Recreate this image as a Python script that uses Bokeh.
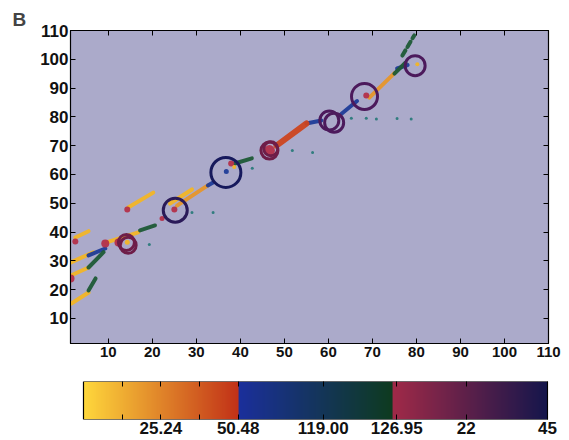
import numpy as np
from bokeh.plotting import figure
from bokeh.layouts import column
from bokeh.models import ColumnDataSource, FixedTicker, LinearAxis, Range1d
from bokeh.embed import file_html
from bokeh.resources import INLINE

# ---- trajectory segments (start / end points, colour class) ----
seg_x0 = [2.5, 14.5, 1.4, 9.6, 1.6, 1.6, 24.0, 25.6, 69.3,
          5.5, 32.6, 55.0, 62.5, 75.6,
          17.2, 5.5, 5.5, 38.7, 76.8, 75.0,
          48.2]
seg_y0 = [38.1, 48.5, 29.4, 36.4, 25.0, 15.2, 49.9, 49.2, 86.7,
          31.9, 56.2, 77.7, 80.5, 96.8,
          40.6, 27.7, 19.7, 63.8, 101.3, 95.0,
          70.0]
seg_x1 = [5.5, 20.2, 6.6, 16.8, 5.5, 5.5, 29.0, 32.6, 75.0,
          9.3, 33.8, 58.4, 66.5, 78.0,
          20.6, 8.9, 7.1, 42.6, 79.5, 77.5,
          55.0]
seg_y1 = [40.3, 53.7, 33.0, 39.9, 27.7, 19.0, 54.8, 56.2, 95.2,
          34.3, 57.2, 78.75, 85.5, 98.0,
          42.3, 33.0, 23.9, 65.6, 108.3, 98.8,
          77.7]
seg_kind = ["yellow"] * 7 + ["orange"] * 2 + ["blue"] * 5 + ["green"] * 6 + ["red"]
seg_dash = ["solid"] * 18 + ["6 4", "solid", "solid"]

# ---- open rings ----
ring_x = [36.7, 25.2, 14.1, 14.5, 46.6, 46.9, 60.2, 61.3, 68.2, 79.7]
ring_y = [60.7, 47.6, 36.4, 35.4, 68.3, 68.9, 78.75, 78.0, 87.1, 97.8]
ring_d = [30, 24, 16, 16, 17, 14, 19, 19, 26, 20]
ring_kind = ["navy", "indigo", "maroon", "maroon", "maroon", "maroon",
             "plum", "plum", "plum", "plum"]

# ---- filled dots ----
dot_x = [2.5, 9.3, 14.3, 1.4, 22.2, 37.9, 25.0, 12.3, 46.6, 68.6, 36.8,
         80.2, 14.3, 38.6,
         65.2, 68.6, 70.9, 75.6, 78.8, 51.8, 56.4, 29.0, 33.8, 19.3, 42.7]
dot_y = [36.7, 36.0, 47.8, 23.9, 44.7, 63.8, 47.8, 36.4, 68.3, 87.4, 61.0,
         98.3, 36.5, 62.6,
         79.5, 79.5, 79.3, 79.4, 79.3, 68.3, 67.6, 46.8, 46.8, 35.7, 62.2]
dot_d = [6, 8, 6, 8, 5, 6, 6, 8, 11, 6, 5,
         4, 5, 4,
         3, 3, 3, 3, 3, 3, 3, 3, 3, 3, 3]
dot_kind = ["crimson"] * 10 + ["blue"] + ["yellow"] * 3 + ["teal"] * 11

# ---- colour bar ----
cb_stops = [("#ffd83c", "#c23218"), ("#1b2f9c", "#0e3b20"), ("#a02a48", "#15164c")]
cb_tick_pos = [2, 4, 6.2, 8.1, 9.9, 12]
cb_tick_lbl = ["25.24", "50.48", "119.00", "126.95", "22", "45"]
cb_minor = [1, 3]

palette = {
    "yellow": "#f2b526", "orange": "#e6962a", "blue": "#1f3c98",
    "green": "#1d5a36", "red": "#cc441f", "navy": "#16195c",
    "indigo": "#2a1a58", "maroon": "#6e1d48", "plum": "#4c1a5c",
    "crimson": "#b3304a", "teal": "#2a7a7a",
}

FONT = "Liberation Sans"
BG = "#abaaca"

p = figure(width=569, height=365, output_backend="svg", toolbar_location=None,
           x_range=Range1d(1.4, 110), y_range=Range1d(1.3, 110),
           min_border_left=70, min_border_right=21, min_border_top=30,
           min_border_bottom=22)
p.background_fill_color = BG
p.border_fill_color = "white"
p.outline_line_color = "black"
p.outline_line_width = 1.2
p.grid.visible = False

p.title.text = "B"
p.title.text_font = FONT
p.title.text_font_size = "19px"
p.title.text_font_style = "bold"
p.title.align = "left"
p.title.offset = -58
p.title.standoff = 2

ticks = list(range(10, 111, 10))


def style_axis(ax, label_size=None):
    ax.ticker = FixedTicker(ticks=ticks)
    ax.major_tick_in = 5
    ax.major_tick_out = 0
    ax.minor_tick_line_color = None
    ax.axis_line_color = "black"
    ax.major_tick_line_color = "black"
    ax.major_label_text_font = FONT
    ax.major_label_text_font_style = "bold"
    if label_size:
        ax.major_label_text_color = "#111111"
        ax.major_label_text_font_size = label_size
        ax.major_label_standoff = 3
    else:
        ax.major_label_text_color = None
        ax.major_label_standoff = 0


style_axis(p.xaxis[0], "15px")
style_axis(p.yaxis[0], "17px")
p.yaxis[0].major_label_standoff = 2
top_ax = LinearAxis()
right_ax = LinearAxis()
style_axis(top_ax)
style_axis(right_ax)
p.add_layout(top_ax, "above")
p.add_layout(right_ax, "right")

seg_color = [palette[k] for k in seg_kind]
seg_width = [6 if k == "red" else 4 for k in seg_kind]
for dash in sorted(set(seg_dash)):
    idx = [i for i, d in enumerate(seg_dash) if d == dash]
    src = ColumnDataSource(dict(
        x0=[seg_x0[i] for i in idx], y0=[seg_y0[i] for i in idx],
        x1=[seg_x1[i] for i in idx], y1=[seg_y1[i] for i in idx],
        color=[seg_color[i] for i in idx], width=[seg_width[i] for i in idx],
    ))
    p.segment("x0", "y0", "x1", "y1", source=src, line_color="color",
              line_width="width", line_cap="round", line_dash=dash, line_alpha=0.95)

dot_src = ColumnDataSource(dict(x=dot_x, y=dot_y, size=dot_d,
                                color=[palette[k] for k in dot_kind]))
p.scatter("x", "y", size="size", source=dot_src, fill_color="color",
          line_color=None, fill_alpha=0.95)

ring_src = ColumnDataSource(dict(x=ring_x, y=ring_y, size=ring_d,
                                 color=[palette[k] for k in ring_kind]))
p.scatter("x", "y", size="size", source=ring_src, fill_color=None,
          line_color="color", line_width=3)

# ---- colour bar panel ----
# the bar spans 0..12 on its own scale; the frame is a little wider so that
# both panels share the same left/right frame edges in the column layout
cb_lo, cb_hi = 0.0, 12.0
cb = figure(width=569, height=75, output_backend="svg", toolbar_location=None,
            x_range=Range1d(-0.336, 12.025), y_range=Range1d(0, 1),
            min_border_left=70, min_border_right=21, min_border_top=16,
            min_border_bottom=21)
cb.grid.visible = False
cb.outline_line_color = None
cb.background_fill_color = "white"
cb.yaxis.visible = False


def hex_rgb(h):
    return np.array([int(h[i:i + 2], 16) for i in (1, 3, 5)], dtype=float)


n = 200
row = []
for c0, c1 in cb_stops:
    a, b = hex_rgb(c0), hex_rgb(c1)
    for t in np.linspace(0, 1, n):
        r, g, bl = (a + (b - a) * t).astype(np.uint32)
        row.append((255 << 24) | (bl << 16) | (g << 8) | r)
img = np.array([row], dtype=np.uint32)
cb.image_rgba(image=[img], x=cb_lo, y=0, dw=cb_hi - cb_lo, dh=1)
cb.quad(left=cb_lo, right=cb_hi, bottom=0, top=1, fill_color=None,
        line_color="black", line_width=1.2)

cb_ax = cb.xaxis[0]
cb_ax.ticker = FixedTicker(ticks=cb_tick_pos, minor_ticks=cb_minor)
cb_ax.major_label_overrides = {t: l for t, l in zip(cb_tick_pos, cb_tick_lbl)}
cb_ax.axis_line_color = None
cb_ax.major_tick_in = 5
cb_ax.major_tick_out = 0
cb_ax.minor_tick_in = 5
cb_ax.minor_tick_out = 0
cb_ax.major_label_standoff = 2
cb_ax.major_label_text_font = FONT
cb_ax.major_label_text_font_size = "17px"
cb_ax.major_label_text_font_style = "bold"
cb_ax.major_label_text_color = "#111111"
cb_top = LinearAxis(ticker=FixedTicker(ticks=cb_tick_pos, minor_ticks=cb_minor),
                    axis_line_color=None,
                    major_tick_in=5, major_tick_out=0, minor_tick_in=5,
                    minor_tick_out=0, major_label_text_color=None,
                    major_label_standoff=0)
cb.add_layout(cb_top, "above")

layout = column(p, cb, spacing=0)
open("out.html", "w").write(file_html(layout, INLINE))
